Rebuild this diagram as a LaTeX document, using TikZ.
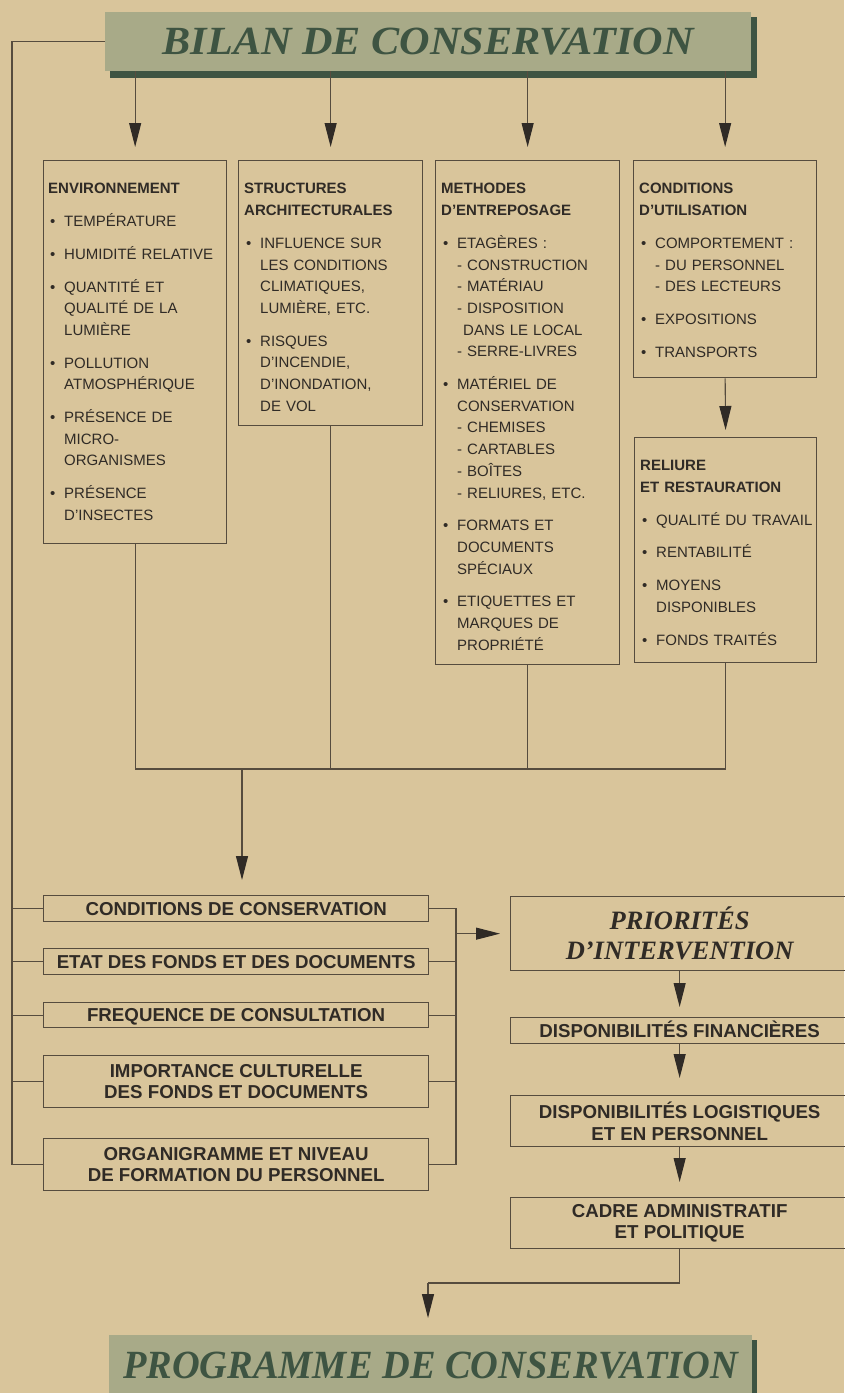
\documentclass[tikz,border=0pt]{standalone}
\usepackage{graphicx}
\usepackage{fontspec}
\setmainfont{Liberation Sans}
\newfontfamily\titrefont{Liberation Serif}
\usepackage{xcolor}
\usetikzlibrary{arrows.meta}

\definecolor{papier}{RGB}{217,197,155}
\definecolor{traitcol}{RGB}{86,76,62}
\definecolor{encre}{RGB}{48,43,38}
\definecolor{bandeau}{RGB}{168,170,136}
\definecolor{vertfonce}{RGB}{62,84,66}

\newcommand{\puce}{\par\vspace{11pt}\hangindent=16pt\hangafter=1\noindent\hspace*{2pt}\makebox[14pt][l]{\textbullet}}
\newcommand{\tiret}{\par\hangindent=22pt\hangafter=1\noindent\hspace*{16pt}\makebox[10pt][l]{-}}
\newcommand{\nl}{\newline}

\begin{document}
\begin{tikzpicture}[x=1pt, y=-1pt,
  trait/.style={draw=traitcol, line width=1.1pt},
  fleche/.style={trait, -{Triangle[length=24pt,width=12pt,color=encre]}, shorten >=#1},
  fleche/.default=12pt,
  boite/.style={draw=traitcol, line width=1.3pt, anchor=north west, inner sep=0pt},
  liste/.style={anchor=north west, inner sep=0pt, text width=200pt, align=left, text=encre, font=\fontsize{15}{21.7}\selectfont},
  etape/.style={boite, text=encre, align=center, font=\bfseries\fontsize{18.7}{21.3}\selectfont},
  uneligne/.style={text height=13.4pt, text depth=0pt},
  titre/.style={fill=bandeau, text=vertfonce, anchor=north west, inner sep=0pt, font=\titrefont\bfseries\itshape\fontsize{40}{44}\selectfont}]
\fill[papier] (0,0) rectangle (844,1393);
\useasboundingbox (0,0) rectangle (844,1393);

\node[titre, minimum width=646, minimum height=59] (bilan) at (105,12) {\scalebox{1.055}[1]{BILAN DE CONSERVATION}};
\fill[vertfonce] ([yshift=-5]bilan.north east) rectangle ([xshift=6,yshift=-7]bilan.south east);
\fill[vertfonce] ([xshift=5]bilan.south west) rectangle ([xshift=6,yshift=-7]bilan.south east);

\node[boite, minimum width=183, minimum height=383] (env) at (43,160) {};
\node[boite, minimum width=184, minimum height=265] (struct) at (238,160) {};
\node[boite, minimum width=184, minimum height=504] (meth) at (435,160) {};
\node[boite, minimum width=183, minimum height=217] (util) at (633,160) {};
\node[boite, minimum width=182, minimum height=225] (reli) at (634,437) {};

\node[liste] (envtxt) at ([xshift=5, yshift=-23.3]env.north west)
  {\textbf{ENVIRONNEMENT}\puce TEMPÉRATURE\puce HUMIDITÉ RELATIVE\puce QUANTITÉ ET\nl QUALITÉ DE LA\nl LUMIÈRE\puce POLLUTION\nl ATMOSPHÉRIQUE\puce PRÉSENCE DE\nl MICRO-\nl ORGANISMES\puce PRÉSENCE\nl D’INSECTES\par};
\node[liste] (structtxt) at ([xshift=6, yshift=-23.3]struct.north west)
  {\textbf{STRUCTURES\nl ARCHITECTURALES}\puce INFLUENCE SUR\nl LES CONDITIONS\nl CLIMATIQUES,\nl LUMIÈRE, ETC.\puce RISQUES\nl D’INCENDIE,\nl D’INONDATION,\nl DE VOL\par};
\node[liste] (methtxt) at ([xshift=6, yshift=-23.3]meth.north west)
  {\textbf{METHODES\nl D’ENTREPOSAGE}\puce ETAGÈRES~:\tiret CONSTRUCTION\tiret MATÉRIAU\tiret DISPOSITION\nl DANS LE LOCAL\tiret SERRE-LIVRES\puce MATÉRIEL DE\nl CONSERVATION\tiret CHEMISES\tiret CARTABLES\tiret BOÎTES\tiret RELIURES, ETC.\puce FORMATS ET\nl DOCUMENTS\nl SPÉCIAUX\puce ETIQUETTES ET\nl MARQUES DE\nl PROPRIÉTÉ\par};
\node[liste] (utiltxt) at ([xshift=6, yshift=-23.3]util.north west)
  {\textbf{CONDITIONS\nl D’UTILISATION}\puce COMPORTEMENT~:\tiret DU PERSONNEL\tiret DES LECTEURS\puce EXPOSITIONS\puce TRANSPORTS\par};
\node[liste] (relitxt) at ([xshift=6, yshift=-23.3]reli.north west)
  {\textbf{RELIURE\nl ET RESTAURATION}\puce QUALITÉ DU TRAVAIL\puce RENTABILITÉ\puce MOYENS\nl DISPONIBLES\puce FONDS TRAITÉS\par};

\node[etape, uneligne, minimum width=385, minimum height=26] (cons) at (43,895) {CONDITIONS DE CONSERVATION};
\node[etape, uneligne, minimum width=385, minimum height=26] (etat) at (43,948) {ETAT DES FONDS ET DES DOCUMENTS};
\node[etape, uneligne, minimum width=385, minimum height=25] (freq) at (43,1002) {FREQUENCE DE CONSULTATION};
\node[etape, minimum width=385, minimum height=52] (impo) at (43,1055) {IMPORTANCE CULTURELLE\\DES FONDS ET DOCUMENTS};
\node[etape, minimum width=385, minimum height=52] (orga) at (43,1138) {ORGANIGRAMME ET NIVEAU\\DE FORMATION DU PERSONNEL};

\node[boite, minimum width=338, minimum height=74, text=encre, align=center, font=\titrefont\bfseries\itshape\fontsize{26.5}{30}\selectfont] (prio) at (510,896) {PRIORITÉS\\D’INTERVENTION};
\node[etape, uneligne, minimum width=338, minimum height=26] (fin) at (510,1017) {DISPONIBILITÉS FINANCIÈRES};
\node[etape, minimum width=338, minimum height=51] (logi) at (510,1095) {DISPONIBILITÉS LOGISTIQUES\\ET EN PERSONNEL};
\node[etape, minimum width=338, minimum height=51] (cadreadm) at (510,1197) {CADRE ADMINISTRATIF\\ET POLITIQUE};

\node[titre, minimum width=643, minimum height=61] (prog) at (109,1335) {\scalebox{0.96}[1]{PROGRAMME DE CONSERVATION}};
\fill[vertfonce] ([yshift=-5]prog.north east) rectangle ([xshift=5]prog.south east);

% liaisons
\foreach \n in {env,struct,meth,util}
  \draw[fleche=13pt] (\n.north |- bilan.south) -- (\n.north);
\draw[fleche=7pt] (util.south) -- (reli.north);

\coordinate (jonction) at (242,769);
\draw[trait] (env.south) |- (reli.south |- jonction) -- (reli.south);
\draw[trait] (struct.south) -- (struct.south |- jonction);
\draw[trait] (meth.south) -- (meth.south |- jonction);
\draw[fleche=15pt] (jonction) -- (jonction |- cons.north);

\coordinate (gauche) at (12,0);
\draw[trait] (bilan.west) -| (gauche |- orga.west) -- (orga.west);
\foreach \n in {cons,etat,freq,impo}
  \draw[trait] (gauche |- \n.west) -- (\n.west);

\coordinate (droite) at (456,0);
\draw[trait] (cons.east) -| (droite |- orga.east) -- (orga.east);
\foreach \n in {etat,freq,impo}
  \draw[trait] (\n.east) -- (droite |- \n.east);
\draw[fleche=10pt] (droite |- prio.west) -- (prio.west);

\draw[fleche=10pt] (prio.south) -- (fin.north);
\draw[fleche=17pt] (fin.south) -- (logi.north);
\draw[fleche=15pt] (logi.south) -- (cadreadm.north);
\coordinate (coude) at (428,1283);
\draw[trait] (cadreadm.south) |- (coude);
\draw[fleche=17pt] (coude) -- (coude |- prog.north);
\end{tikzpicture}
\end{document}
